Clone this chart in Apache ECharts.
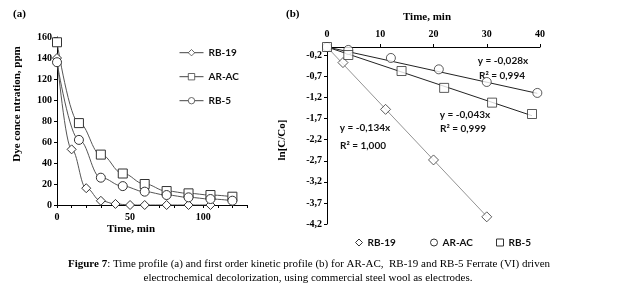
<!DOCTYPE html>
<html><head><meta charset="utf-8">
<script src="https://cdn.jsdelivr.net/npm/echarts@6/dist/echarts.min.js"></script>
<style>html,body{margin:0;padding:0;background:#fff}#c{width:617px;height:294px}</style>
</head><body><div id="c"></div>
<script>
// ---------- Panel (a): time profile ----------
const timeA_RB19 = [0, 10, 20, 30, 40, 50, 60, 75, 90, 105];
const concA_RB19 = [140, 53, 16, 4, 1, 0, 0, 0, 0, 0];
const timeA = [0, 15, 30, 45, 60, 75, 90, 105, 120];
const concA_ARAC = [155, 78, 48, 30, 20, 13.3, 11.1, 9.5, 7.9];
const concA_RB5 = [136, 62, 26, 18, 12.7, 9.5, 7.3, 5.7, 4.1];
const xTicksA = [0, 10, 20, 30, 40, 50, 60, 70, 80, 90, 100, 110, 120, 130];
const xLabelsA = [0, 50, 100];
const yTicksA = [0, 20, 40, 60, 80, 100, 120, 140, 160];

// ---------- Panel (b): first order kinetics ----------
const timeB_RB19 = [0, 3, 11, 20, 30];
const lnB_RB19 = [0, -0.37, -1.48, -2.68, -4.03];
const timeB_ARAC = [0, 4, 12, 21, 30, 39.5];
const lnB_ARAC = [0, -0.07, -0.26, -0.53, -0.83, -1.09];
const timeB_RB5 = [0, 4, 14, 22, 31, 38.5];
const lnB_RB5 = [0, -0.19, -0.57, -0.97, -1.32, -1.59];
const trendB_RB19 = [[0, 0], [30, -4.02]];
const trendB_ARAC = [[0, 0], [39.5, -1.1]];
const trendB_RB5 = [[0, 0], [38.5, -1.63]];
const xTicksB = [0, 10, 20, 30, 40];
const yTicksB = [-4.2, -3.7, -3.2, -2.7, -2.2, -1.7, -1.2, -0.7, -0.2];

const serif = '"Liberation Serif", "Times New Roman", serif';
const sans = 'Lato, "Open Sans", sans-serif';
const pair = (xs, ys) => xs.map((x, i) => [x, ys[i]]);
const comma = v => v.toFixed(1).replace('.', ',');

const markerStyle = { color: '#fff', borderColor: '#333', borderWidth: 1 };
const axisLineStyle = { lineStyle: { color: '#000', width: 1 } };
const labelA = { fontFamily: serif, fontWeight: 'bold', fontSize: 10, color: '#000' };
const legText = { fontFamily: sans, fontSize: 10, fontWeight: 'bold', color: '#111' };
const annFont = 'bold 10px ' + sans;

const chart = echarts.init(document.getElementById('c'), null, { renderer: 'canvas' });

chart.setOption({
  animation: false,
  backgroundColor: '#fff',
  grid: [
    { left: 57, top: 37, width: 190, height: 168 },
    { left: 327, top: 47, width: 213, height: 177 }
  ],
  xAxis: [
    { gridIndex: 0, type: 'value', min: 0, max: 130, interval: 10,
      axisLine: axisLineStyle, splitLine: { show: false },
      axisTick: { show: true, length: 3, customValues: xTicksA, lineStyle: { color: '#000' } },
      axisLabel: Object.assign({ margin: 7, customValues: xLabelsA }, labelA) },
    { gridIndex: 1, type: 'value', min: 0, max: 40, interval: 10, position: 'top',
      axisLine: axisLineStyle, splitLine: { show: false },
      axisTick: { show: true, length: 3, customValues: xTicksB, lineStyle: { color: '#000' } },
      axisLabel: Object.assign({ margin: 8, customValues: xTicksB }, labelA) }
  ],
  yAxis: [
    { gridIndex: 0, type: 'value', min: 0, max: 160, interval: 20,
      axisLine: Object.assign({ show: true }, axisLineStyle), splitLine: { show: false },
      axisTick: { show: true, length: 3, customValues: yTicksA, lineStyle: { color: '#000' } },
      axisLabel: Object.assign({ margin: 5, customValues: yTicksA }, labelA) },
    { gridIndex: 1, type: 'value', min: -4.2, max: 0, interval: 0.5,
      axisLine: Object.assign({ show: true, onZero: false }, axisLineStyle), splitLine: { show: false },
      axisTick: { show: true, length: 3, customValues: yTicksB, lineStyle: { color: '#000' } },
      axisLabel: Object.assign({ margin: 5, customValues: yTicksB, formatter: comma }, labelA) }
  ],
  legend: [
    { orient: 'vertical', left: 174, top: 42.7, itemWidth: 24, itemHeight: 8, itemGap: 14,
      data: ['RB-19', 'AR-AC', 'RB-5'], selectedMode: false,
      lineStyle: { width: 1, color: '#444' },
      itemStyle: { color: '#fff', borderColor: '#444', borderWidth: 0.8 },
      textStyle: legText },
    { left: 350, top: 232.5, itemWidth: 7, itemHeight: 7, selectedMode: false,
      data: [{ name: 'RB-19', icon: 'diamond' }], itemStyle: markerStyle, textStyle: legText },
    { left: 425, top: 232.5, itemWidth: 7, itemHeight: 7, selectedMode: false,
      data: [{ name: 'AR-AC', icon: 'circle' }], itemStyle: markerStyle, textStyle: legText },
    { left: 491, top: 232.5, itemWidth: 7, itemHeight: 7, selectedMode: false,
      data: [{ name: 'RB-5', icon: 'rect' }], itemStyle: markerStyle, textStyle: legText }
  ],
  series: [
    { name: 'RB-19', type: 'line', xAxisIndex: 0, yAxisIndex: 0, data: pair(timeA_RB19, concA_RB19),
      smooth: 0.4, smoothMonotone: 'x', symbol: 'diamond', symbolSize: 9, showAllSymbol: true,
      lineStyle: { color: '#555', width: 1 }, itemStyle: markerStyle, emphasis: { disabled: true } },
    { name: 'AR-AC', type: 'line', xAxisIndex: 0, yAxisIndex: 0, data: pair(timeA, concA_ARAC),
      smooth: 0.4, smoothMonotone: 'x', symbol: 'rect', symbolSize: 9, showAllSymbol: true,
      lineStyle: { color: '#555', width: 1 }, itemStyle: markerStyle, emphasis: { disabled: true } },
    { name: 'RB-5', type: 'line', xAxisIndex: 0, yAxisIndex: 0, data: pair(timeA, concA_RB5),
      smooth: 0.4, smoothMonotone: 'x', symbol: 'circle', symbolSize: 9, showAllSymbol: true,
      lineStyle: { color: '#555', width: 1 }, itemStyle: markerStyle, emphasis: { disabled: true } },

    { type: 'line', xAxisIndex: 1, yAxisIndex: 1, data: trendB_RB19, symbol: 'none',
      lineStyle: { color: '#777', width: 0.8 }, emphasis: { disabled: true }, silent: true },
    { type: 'line', xAxisIndex: 1, yAxisIndex: 1, data: trendB_ARAC, symbol: 'none',
      lineStyle: { color: '#222', width: 1 }, emphasis: { disabled: true }, silent: true },
    { type: 'line', xAxisIndex: 1, yAxisIndex: 1, data: trendB_RB5, symbol: 'none',
      lineStyle: { color: '#222', width: 1 }, emphasis: { disabled: true }, silent: true },
    { name: 'RB-19', type: 'scatter', xAxisIndex: 1, yAxisIndex: 1, data: pair(timeB_RB19, lnB_RB19),
      symbol: 'diamond', symbolSize: 10, itemStyle: markerStyle, emphasis: { disabled: true }, z: 5 },
    { name: 'AR-AC', type: 'scatter', xAxisIndex: 1, yAxisIndex: 1, data: pair(timeB_ARAC, lnB_ARAC),
      symbol: 'circle', symbolSize: 9, itemStyle: markerStyle, emphasis: { disabled: true }, z: 5 },
    { name: 'RB-5', type: 'scatter', xAxisIndex: 1, yAxisIndex: 1, data: pair(timeB_RB5, lnB_RB5),
      symbol: 'rect', symbolSize: 9, itemStyle: markerStyle, emphasis: { disabled: true }, z: 5 }
  ],
  graphic: [
    { type: 'text', left: 13, top: 9, style: { text: '(a)', font: 'bold 11px ' + serif, fill: '#000' } },
    { type: 'text', left: 286, top: 9, style: { text: '(b)', font: 'bold 11px ' + serif, fill: '#000' } },
    { type: 'text', x: 17, y: 104, rotation: Math.PI / 2,
      style: { text: 'Dye conce ntration, ppm', font: 'bold 11px ' + serif, fill: '#000', align: 'center', verticalAlign: 'middle' } },
    { type: 'text', x: 131, y: 229,
      style: { text: 'Time, min', font: 'bold 11px ' + serif, fill: '#000', align: 'center', verticalAlign: 'middle' } },
    { type: 'text', x: 427, y: 17,
      style: { text: 'Time, min', font: 'bold 11px ' + serif, fill: '#000', align: 'center', verticalAlign: 'middle' } },
    { type: 'text', x: 282, y: 140, rotation: Math.PI / 2,
      style: { text: 'ln[C/Co]', font: 'bold 11px ' + serif, fill: '#000', align: 'center', verticalAlign: 'middle' } },
    { type: 'text', x: 365, y: 128, style: { text: 'y = -0,134x', font: annFont, fill: '#111', align: 'center', verticalAlign: 'middle' } },
    { type: 'text', x: 363, y: 146, style: { text: 'R² = 1,000', font: annFont, fill: '#111', align: 'center', verticalAlign: 'middle' } },
    { type: 'text', x: 503, y: 61, style: { text: 'y = -0,028x', font: annFont, fill: '#111', align: 'center', verticalAlign: 'middle' } },
    { type: 'text', x: 502, y: 76, style: { text: 'R² = 0,994', font: annFont, fill: '#111', align: 'center', verticalAlign: 'middle' } },
    { type: 'text', x: 465, y: 115, style: { text: 'y = -0,043x', font: annFont, fill: '#111', align: 'center', verticalAlign: 'middle' } },
    { type: 'text', x: 463, y: 129, style: { text: 'R² = 0,999', font: annFont, fill: '#111', align: 'center', verticalAlign: 'middle' } },
    { type: 'text', x: 309, y: 264,
      style: { text: '{b|Figure 7}: Time profile (a) and first order kinetic profile (b) for AR-AC,  RB-19 and RB-5 Ferrate (VI) driven',
        font: '11px ' + serif, fill: '#000', align: 'center', verticalAlign: 'middle',
        rich: { b: { font: 'bold 11px ' + serif, fill: '#000' } } } },
    { type: 'text', x: 308, y: 278,
      style: { text: 'electrochemical decolorization, using commercial steel wool as electrodes.',
        font: '11px ' + serif, fill: '#000', align: 'center', verticalAlign: 'middle' } }
  ]
});
</script>
</body></html>
